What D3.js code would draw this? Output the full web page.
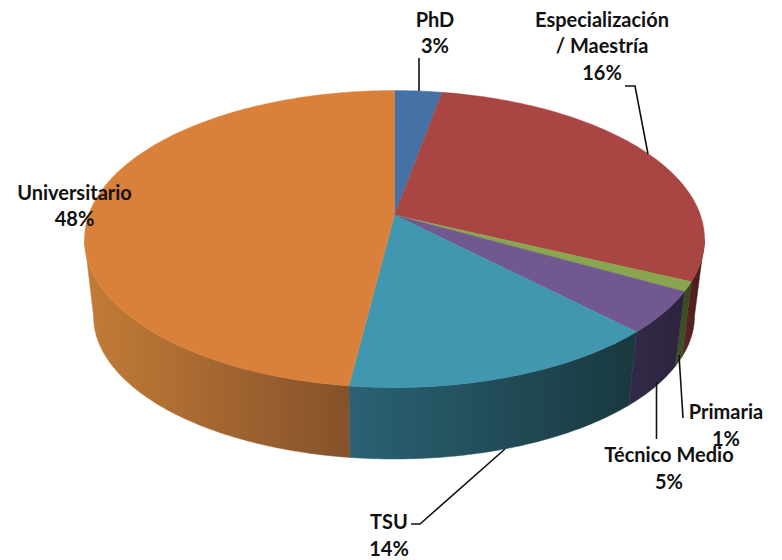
<!DOCTYPE html>
<html><head><meta charset="utf-8">
<script src="https://cdn.jsdelivr.net/npm/d3@7/dist/d3.min.js"></script>
<style>html,body{margin:0;background:#fff}svg{display:block}
text{font-family:Lato,"Open Sans",sans-serif;font-weight:700;font-size:20px;fill:#111;text-anchor:middle}</style>
</head><body><svg id="c" width="782" height="560"></svg>
<script>
const categories = ["PhD","Especialización / Maestría","Primaria","Técnico Medio","TSU","Universitario"];
const labelPercents = [3,16,1,5,14,48];
// share of the circle each slice visibly occupies (drawn sweep)
const sliceShares = [2.45,27.2,1.1,5.0,16.6,47.65];
const topColors = ["#4571A5","#A94543","#89A54E","#71588F","#4097AF","#D9813B"];
const wallLeft = ["#2c4767","#5f2725","#42552a","#332a48","#2a6274","#c37c37"];
const wallRight = ["#2c4767","#43191a","#37481f","#2d233d","#19383f","#85512a"];
const labelLines = [["PhD"],["Especialización","/ Maestría"],["Primaria"],["Técnico Medio"],["TSU"],["Universitario"]];
const labelX = [435,602,726,669,389,74.5];
const labelY = [26.5,26.5,419,462,529,199.5];
const leaders = [
  [[419,58],[419,91]],
  [[625,86],[635,86],[648,154]],
  [[679,355],[683,418]],
  [[656.5,382],[656.5,439]],
  [[505,449],[420,524],[411,524]]
];

const svg = d3.select("#c");
const apex = {x:394.5,y:215};
const topE = {cx:394.5,cy:239,rx:310,ry:148.5};
const botE = {cx:394,cy:316,rx:300.5,ry:143};
const pt = (e,a)=>[e.cx+e.rx*Math.sin(a), e.cy-e.ry*Math.cos(a)];
const arcs = d3.pie().sort(null).value(d=>d)(sliceShares);
const line = d3.line();
const samples = (a0,a1)=>d3.range(0,1.0001,1/Math.max(2,Math.ceil((a1-a0)*60))).map(f=>a0+(a1-a0)*f);

const defs = svg.append("defs");
const wallMin = Math.PI/2, wallMax = 1.5*Math.PI;
const walls = arcs.map((d,i)=>{
  const a0=Math.max(d.startAngle,wallMin), a1=Math.min(d.endAngle,wallMax);
  return {i,a0,a1,visible:a1>a0};
}).filter(w=>w.visible);

walls.forEach(w=>{
  const s=samples(w.a0,w.a1);
  const up=s.map(a=>pt(topE,a)), dn=s.map(a=>pt(botE,a)).reverse();
  const xs=up.concat(dn).map(p=>p[0]);
  const id="g"+w.i;
  const g=defs.append("linearGradient").attr("id",id).attr("gradientUnits","userSpaceOnUse")
    .attr("x1",d3.min(xs)).attr("x2",d3.max(xs)).attr("y1",0).attr("y2",0);
  g.append("stop").attr("offset",0).attr("stop-color",wallLeft[w.i]);
  g.append("stop").attr("offset",1).attr("stop-color",wallRight[w.i]);
  svg.append("path").attr("d",line(up.concat(dn))+"Z").attr("fill",`url(#${id})`)
    .attr("stroke",`url(#${id})`).attr("stroke-width",0.5);
});

arcs.forEach((d,i)=>{
  const p=[[apex.x,apex.y]].concat(samples(d.startAngle,d.endAngle).map(a=>pt(topE,a)));
  svg.append("path").attr("d",line(p)+"Z").attr("fill",topColors[i])
    .attr("stroke",topColors[i]).attr("stroke-width",0.4);
});

leaders.forEach(l=>svg.append("path").attr("d",line(l)).attr("fill","none")
  .attr("stroke","#111").attr("stroke-width",1.6));

categories.forEach((c,i)=>{
  const t=svg.append("text").attr("x",labelX[i]).attr("y",labelY[i]);
  labelLines[i].concat([labelPercents[i]+"%"]).forEach((s,k)=>
    t.append("tspan").attr("x",labelX[i]).attr("dy",k?26.5:0).text(s));
});
</script></body></html>
